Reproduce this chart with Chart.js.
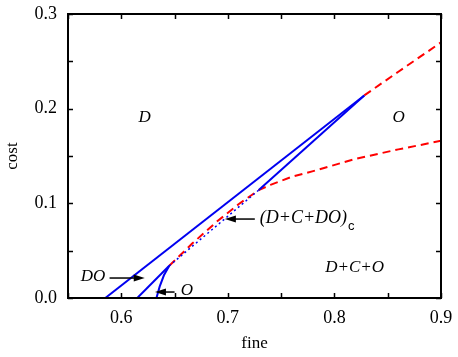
<!DOCTYPE html>
<html>
<head>
<meta charset="utf-8">
<script src="https://cdn.jsdelivr.net/npm/chart.js@4.4.0/dist/chart.umd.min.js"></script>
<style>
html, body { margin: 0; padding: 0; background: #fff; }
#wrap { width: 458px; height: 357px; }
</style>
</head>
<body>
<div id="wrap"><canvas id="chart"></canvas></div>
<script>
// phase boundaries (fine, cost)
const outerX = [0.585, 0.828]
const outerY = [0, 0.214]
const innerX = [0.615, 0.645]
const innerY = [0, 0.034]
const dottedX = [0.645, 0.729]
const dottedY = [0.034, 0.114]
const innerTopX = [0.729, 0.828]
const innerTopY = [0.114, 0.214]
const oCurveX = [0.633, 0.636, 0.640, 0.645]
const oCurveY = [0, 0.012, 0.024, 0.034]
const redLowX = [0.645, 0.667, 0.69, 0.71, 0.729, 0.74, 0.76, 0.78, 0.82, 0.86, 0.9]
const redLowY = [0.034, 0.058, 0.081, 0.099, 0.114, 0.1195, 0.128, 0.134, 0.147, 0.157, 0.166]
const redUpX = [0.828, 0.86, 0.9]
const redUpY = [0.214, 0.239, 0.270]

// region labels [text, fine, cost]
const regionLabels = [
    ['D', 0.622, 0.191],
    ['O', 0.8603, 0.191],
    ['D+C+O', 0.819, 0.0317]
]
// arrows [fromX, fromY, toX, toY] and their labels
const arrows = [
    [0.589, 0.0211, 0.622, 0.0211],
    [0.650, 0.0063, 0.6316, 0.0063],
    [0.7253, 0.0834, 0.6972, 0.0834]
]
const arrowLabels = [
    ['DO', 0.5734, 0.0222],
    ['O', 0.6616, 0.0074]
]

const pts = (xs, ys) => xs.map((x, i) => ({ x: x, y: ys[i] }))
const BLUE = 'rgb(0, 0, 240)'
const RED = 'rgb(255, 0, 0)'

const lineSet = (xs, ys, color, dash, width) => ({
    data: pts(xs, ys),
    showLine: true,
    pointRadius: 0,
    borderColor: color,
    borderWidth: width,
    borderDash: dash,
    fill: false,
    tension: 0
})

const isMajor = v => Math.abs(v * 10 - Math.round(v * 10)) < 1e-6

// frame, inward ticks on all sides, text and arrows
const decorations = {
    id: 'decorations',
    afterDraw(chart) {
        const { ctx, chartArea: a, scales: { x, y } } = chart
        ctx.save()
        ctx.strokeStyle = '#000'
        ctx.lineWidth = 1.5
        ctx.beginPath()
        for (let v = 0.55; v <= 0.9001; v += 0.05) {
            const px = Math.round(x.getPixelForValue(v)) + 0.5
            ctx.moveTo(px, a.bottom); ctx.lineTo(px, a.bottom - 5)
            ctx.moveTo(px, a.top); ctx.lineTo(px, a.top + 5)
        }
        for (let v = 0; v <= 0.3001; v += 0.05) {
            const py = Math.round(y.getPixelForValue(v)) + 0.5
            ctx.moveTo(a.left, py); ctx.lineTo(a.left + 5, py)
            ctx.moveTo(a.right, py); ctx.lineTo(a.right - 5, py)
        }
        ctx.stroke()
        ctx.lineWidth = 2
        ctx.strokeRect(a.left, a.top, a.right - a.left, a.bottom - a.top)

        // arrows
        ctx.fillStyle = '#000'
        ctx.lineWidth = 1.5
        arrows.forEach(ar => {
            const x0 = x.getPixelForValue(ar[0]), y0 = y.getPixelForValue(ar[1])
            const x1 = x.getPixelForValue(ar[2]), y1 = y.getPixelForValue(ar[3])
            const dir = Math.sign(x1 - x0)
            ctx.beginPath()
            ctx.moveTo(x0, y0); ctx.lineTo(x1 - dir * 8, y1)
            ctx.stroke()
            ctx.beginPath()
            ctx.moveTo(x1, y1)
            ctx.lineTo(x1 - dir * 11, y1 - 3.5)
            ctx.lineTo(x1 - dir * 11, y1 + 3.5)
            ctx.closePath()
            ctx.fill()
        })

        // labels
        ctx.font = 'italic 17px "Liberation Serif"'
        ctx.textAlign = 'center'
        ctx.textBaseline = 'middle'
        regionLabels.concat(arrowLabels).forEach(l => {
            ctx.fillText(l[0], x.getPixelForValue(l[1]), y.getPixelForValue(l[2]))
        })
        const cx = x.getPixelForValue(0.73), cy = y.getPixelForValue(0.0845)
        ctx.textAlign = 'left'
        ctx.font = 'italic 18px "Liberation Serif"'
        ctx.fillText('(D+C+DO)', cx, cy)
        const w = ctx.measureText('(D+C+DO)').width
        ctx.font = '13px "Liberation Sans"'
        ctx.fillText('c', cx + w + 1, cy + 8)
        ctx.restore()
    }
}

const tickFont = { family: 'Liberation Serif', size: 18 }
const titleFont = { family: 'Liberation Serif', size: 17 }

new Chart(document.getElementById('chart'), {
    type: 'scatter',
    data: {
        datasets: [
            lineSet(outerX, outerY, BLUE, [], 2),
            lineSet(innerX, innerY, BLUE, [], 2),
            lineSet(innerTopX, innerTopY, BLUE, [], 2),
            lineSet(oCurveX, oCurveY, BLUE, [], 2),
            lineSet(dottedX, dottedY, BLUE, [2, 3], 1.5),
            lineSet(redLowX, redLowY, RED, [8, 5], 2),
            lineSet(redUpX, redUpY, RED, [8, 5], 2)
        ]
    },
    options: {
        responsive: true,
        maintainAspectRatio: false,
        animation: false,
        layout: { padding: { top: 14, right: 17, left: 0, bottom: 0 } },
        plugins: { legend: { display: false }, tooltip: { enabled: false } },
        scales: {
            x: {
                type: 'linear', min: 0.55, max: 0.9,
                afterFit(s) { s.height = 59; s.paddingLeft = 0; s.paddingRight = 0 },
                grid: { display: false, drawTicks: false },
                border: { display: false },
                ticks: {
                    stepSize: 0.05, autoSkip: false, maxRotation: 0, padding: 9,
                    color: '#000', font: tickFont,
                    callback: v => isMajor(v) ? v.toFixed(1) : ''
                },
                title: { display: true, text: 'fine', color: '#000', font: titleFont, padding: { top: 0, bottom: 3 } }
            },
            y: {
                type: 'linear', min: 0, max: 0.3,
                afterFit(s) { s.width = 68; s.paddingTop = 0; s.paddingBottom = 0 },
                grid: { display: false, drawTicks: false },
                border: { display: false },
                ticks: {
                    stepSize: 0.05, autoSkip: false, padding: 11,
                    color: '#000', font: tickFont,
                    callback: v => isMajor(v) ? v.toFixed(1) : ''
                },
                title: { display: true, text: 'cost', color: '#000', font: titleFont, padding: { top: 2, bottom: 0 } }
            }
        }
    },
    plugins: [decorations]
})
</script>
</body>
</html>
